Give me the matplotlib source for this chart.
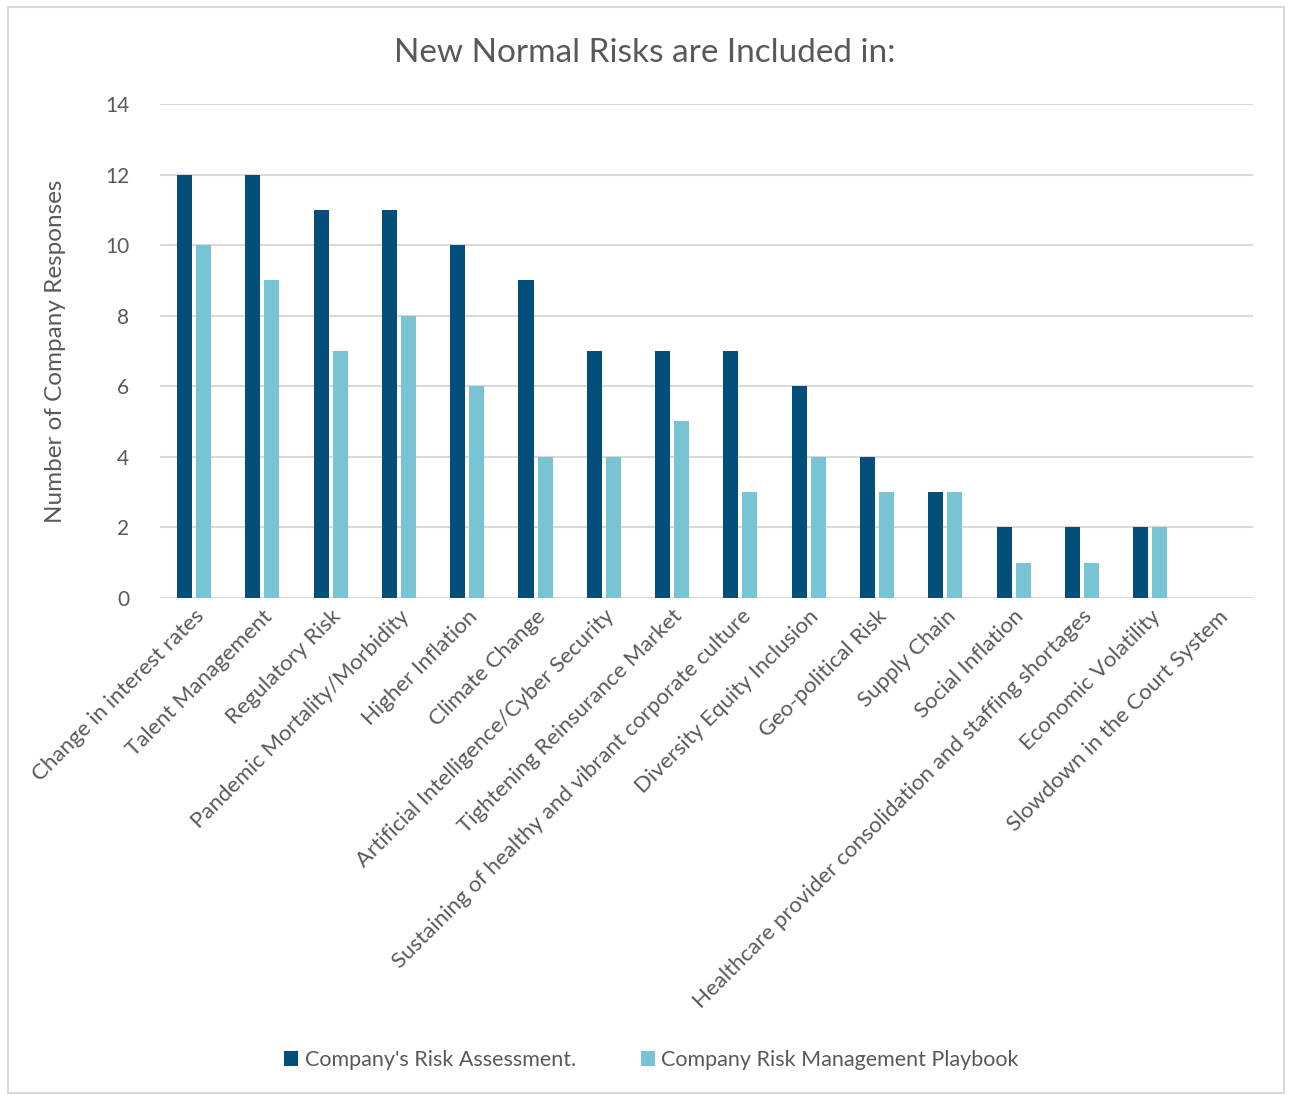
import numpy as np
import matplotlib.pyplot as plt
from matplotlib.patches import Rectangle

# Risk categories and counts
categories = [
    "Change in interest rates",
    "Talent Management",
    "Regulatory Risk",
    "Pandemic Mortality/Morbidity",
    "Higher Inflation",
    "Climate Change",
    "Artificial Intelligence/Cyber Security",
    "Tightening Reinsurance Market",
    "Sustaining of healthy and vibrant corporate culture",
    "Diversity Equity Inclusion",
    "Geo-political Risk",
    "Supply Chain",
    "Social Inflation",
    "Healthcare provider consolidation and staffing shortages",
    "Economic Volatility",
    "Slowdown in the Court System",
]
risk_assessment = [12, 12, 11, 11, 10, 9, 7, 7, 7, 6, 4, 3, 2, 2, 2, 0]
risk_playbook = [10, 9, 7, 8, 6, 4, 4, 5, 3, 4, 3, 3, 1, 1, 2, 0]
series_names = ["Company's Risk Assessment.", "Company Risk Management Playbook"]
y_ticks = [0, 2, 4, 6, 8, 10, 12, 14]

dark = "#044e7c"
light = "#78c4d4"
text_gray = "#595959"
grid_gray = "#d9d9d9"

plt.rcParams['font.family'] = ['Lato', 'DejaVu Sans']

fig = plt.figure(figsize=(12.9, 10.95), dpi=100)
ax = fig.add_axes([0.124, 0.454, 0.847, 0.451])

x = np.arange(len(categories))
width = 0.22
ax.bar(x - 0.14, risk_assessment, width, color=dark, label=series_names[0], zorder=3)
ax.bar(x + 0.14, risk_playbook, width, color=light, label=series_names[1], zorder=3)

ax.set_xlim(-0.5, len(categories) - 0.5)
ax.set_ylim(0, 14)
ax.set_yticks(y_ticks)
ax.tick_params(axis='y', length=0, labelsize=15, labelcolor=text_gray, pad=22)
ax.tick_params(axis='x', length=0, labelsize=16, labelcolor=text_gray, pad=6)
ax.set_xticks(x)
ax.set_xticklabels(categories, rotation=45, ha='right', rotation_mode='anchor')

ax.grid(axis='y', color=grid_gray, linewidth=1.5, zorder=0)
for s in ax.spines.values():
    s.set_visible(False)

ax.set_ylabel("Number of Company Responses", fontsize=17.5, color=text_gray, labelpad=28)
fig.text(0.5, 0.952, "New Normal Risks are Included in:", ha='center', va='center',
         fontsize=24, color=text_gray)

fig.legend(loc='center', bbox_to_anchor=(0.505, 0.032), ncol=2, frameon=False,
           fontsize=15.5, labelcolor=text_gray, handlelength=0.65, handleheight=0.65,
           handletextpad=0.3, columnspacing=3.0)

# light border around the whole chart
fig.patches.append(Rectangle((0.006, 0.002), 0.989, 0.992, transform=fig.transFigure,
                             fill=False, edgecolor=grid_gray, linewidth=1.5))

fig.savefig("out.png", dpi=100)
